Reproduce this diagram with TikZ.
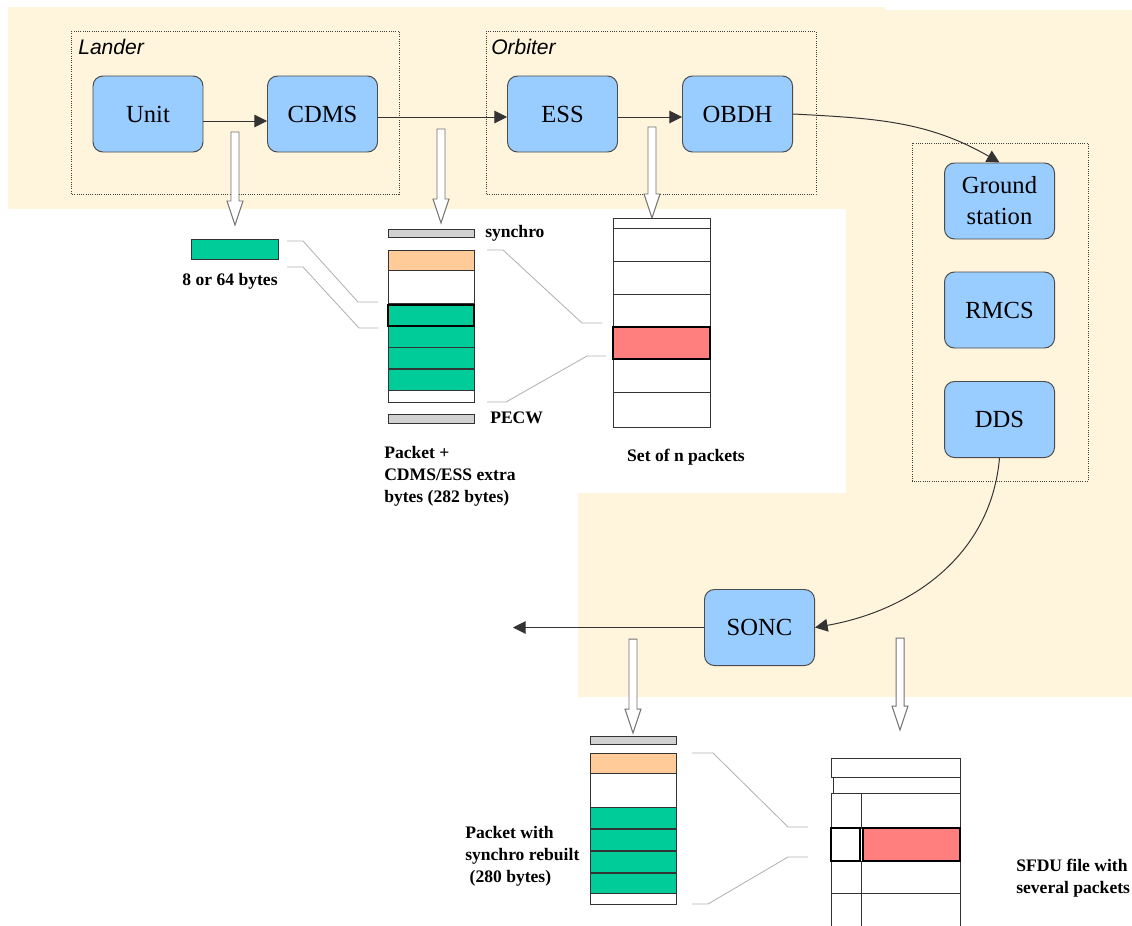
\documentclass[tikz,border=0pt]{standalone}
\usepackage{fontspec}
\setmainfont{Liberation Serif}
\newfontfamily\groupfont{Liberation Sans}
\usetikzlibrary{shapes,shapes.misc,arrows,positioning,calc,arrows.meta}
\definecolor{Sand}{HTML}{FFF4DC}
\definecolor{Sky}{HTML}{99CCFF}
\definecolor{Jade}{HTML}{00CC99}
\definecolor{Peach}{HTML}{FFCC99}
\definecolor{Salmon}{HTML}{FF7F7F}
\tikzset{link layout/.style={%
    y=-0.25mm,%
    x=0.25mm,%
    every node/.style={%
        inner sep=0pt%
    }%
}}
\tikzset{station/.style={%
    draw=black!70, fill=Sky, line width=0.7pt, rounded corners=2.5mm,%
    minimum width=27.5mm, minimum height=19mm, align=center,%
    font=\fontsize{17.5}{22}\selectfont%
}}
\tikzset{group box/.style={%
    draw=black!75, densely dotted, line width=0.6pt%
}}
\tikzset{group label/.style={%
    anchor=base west, font=\groupfont\itshape\fontsize{15}{18}\selectfont%
}}
\tikzset{flow/.style={%
    draw=black!80, line width=0.7pt, -{Triangle[width=9pt,length=9pt]}%
}}
\tikzset{fat arrow/.style={%
    draw=black!55, fill=white, line width=0.7pt%
}}
\tikzset{guide/.style={%
    draw=black!30, line width=0.6pt%
}}
\tikzset{cell/.style={%
    draw=black!80, line width=0.6pt%
}}
\tikzset{strong cell/.style={%
    draw=black, line width=1.6pt%
}}
\tikzset{bar/.style={%
    draw=black!80, fill=black!18, line width=0.6pt%
}}
\tikzset{caption/.style={%
    align=left, font=\bfseries\fontsize{12.5}{15.5}\selectfont%
}}
\newcommand{\fatarrow}[2]{%
    \draw[fat arrow] ($(#1)+(-4,0)$) -- ($(#2)+(-4,-24)$) -- ($(#2)+(-8,-24)$)
        -- (#2) -- ($(#2)+(8,-24)$) -- ($(#2)+(4,-24)$) -- ($(#1)+(4,0)$) -- cycle;%
}

\begin{document}
\begin{tikzpicture}[link layout]
    \useasboundingbox (0,0) rectangle (1132,925);
    \fill[Sand] (8,7) -- (885,7) -- (885,10) -- (1132,10) -- (1132,697) -- (578,697)
        -- (578,493) -- (846,493) -- (846,209) -- (8,209) -- cycle;

    \draw[group box] (71,31) rectangle (399,194);
    \draw[group box] (486,31) rectangle (816,194);
    \draw[group box] (912,143) rectangle (1088,481);
    \node[group label] (lander) at (78,54) {Lander};
    \node[group label] (orbiter) at (491,54) {Orbiter};

    \node[station] (unit) at (148,114) {Unit};
    \node[station] (cdms) at (322.5,114) {CDMS};
    \node[station] (ess) at (562.5,114) {ESS};
    \node[station] (obdh) at (737.5,114) {OBDH};
    \node[station] (ground) at (999.5,201) {Ground\\station};
    \node[station] (rmcs) at (999.5,310) {RMCS};
    \node[station] (dds) at (999.5,419.5) {DDS};
    \node[station] (sonc) at (759.5,627.5) {SONC};
    \coordinate (archive) at (513,627.5);

    \draw[flow] ([yshift=-1.75mm]unit.east) -- ([yshift=-1.75mm]cdms.west);
    \draw[flow] ([yshift=-0.75mm]cdms.east) -- ([yshift=-0.75mm]ess.west);
    \draw[flow] ([yshift=-0.75mm]ess.east) -- ([yshift=-0.75mm]obdh.west);
    \draw[flow] (obdh.east) to [out=-3, in=150] (ground.north);
    \draw[flow] (dds.south) to [out=-95, in=10] (sonc.east);
    \draw[flow] (sonc.west) -- (archive);

    \foreach \n/\x/\a/\b in {1/235/132/225, 2/441/129/223, 3/652/127/218, 4/633/639/733, 5/900/638/730} {
        \coordinate (drop\n) at (\x,\a);
        \coordinate (hit\n) at (\x,\b);
        \fatarrow{drop\n}{hit\n}
    }

    \draw[guide] (287,241) -- (303,241) -- (358,302) -- (378,302);
    \draw[guide] (287,267) -- (303,267) -- (359,328) -- (378,328);
    \draw[guide] (487,250) -- (503,250) -- (582,323) -- (602,323);
    \draw[guide] (487,402) -- (506,402) -- (587,356) -- (606,356);
    \draw[guide] (692,753) -- (713,753) -- (788,827) -- (808,827);
    \draw[guide] (692,904) -- (708,904) -- (788,857) -- (808,857);

    \draw[cell, fill=Jade] (191,239) rectangle (278,259);
    \node[caption] (word) at (230,281) {8 or 64 bytes};

    \draw[bar] (388,229) rectangle (474,237);
    \foreach \a/\b/\c in {250/270/Peach, 270/303/white, 326/347/Jade, 347/368/Jade, 369/390/Jade, 390/402/white}
        \draw[cell, fill=\c] (388,\a) rectangle (474,\b);
    \draw[strong cell, fill=Jade] (388,305) rectangle (474,326);
    \draw[bar] (388,414) rectangle (474,423);
    \node[caption, anchor=west] (synchro) at (485,233) {synchro};
    \node[caption, anchor=west] (pecw) at (490,418) {PECW};
    \node[caption, anchor=north west] (frame) at (384,446) {Packet +\\CDMS/ESS extra\\bytes (282 bytes)};

    \foreach \a/\b in {218/228, 228/261, 261/294, 294/327, 359/392, 392/427}
        \draw[cell, fill=white] (613,\a) rectangle (710,\b);
    \draw[strong cell, fill=Salmon] (613,327) rectangle (710,359);
    \node[caption] (set) at (686,457) {Set of n packets};

    \draw[bar] (590,736) rectangle (676,744);
    \foreach \a/\b/\c in {753/773/Peach, 773/807/white, 807/828/Jade, 829/850/Jade, 851/872/Jade, 873/893/Jade, 893/904/white}
        \draw[cell, fill=\c] (590,\a) rectangle (676,\b);
    \node[caption, anchor=north west] (rebuilt) at (465,826) {Packet with\\synchro rebuilt\\~(280 bytes)};

    \draw[cell, fill=white] (831,758) rectangle (960,777);
    \draw[cell, fill=white] (833,777) rectangle (960,793);
    \foreach \a/\b in {793/828, 861/893, 893/935} {
        \draw[cell, fill=white] (831,\a) rectangle (861,\b);
        \draw[cell, fill=white] (861,\a) rectangle (960,\b);
    }
    \draw[strong cell, fill=white] (831,828) rectangle (860,861);
    \draw[strong cell, fill=Salmon] (863,828) rectangle (960,861);
    \node[caption, anchor=north west] (sfdu) at (1016,859) {SFDU file with\\several packets};
\end{tikzpicture}
\end{document}
